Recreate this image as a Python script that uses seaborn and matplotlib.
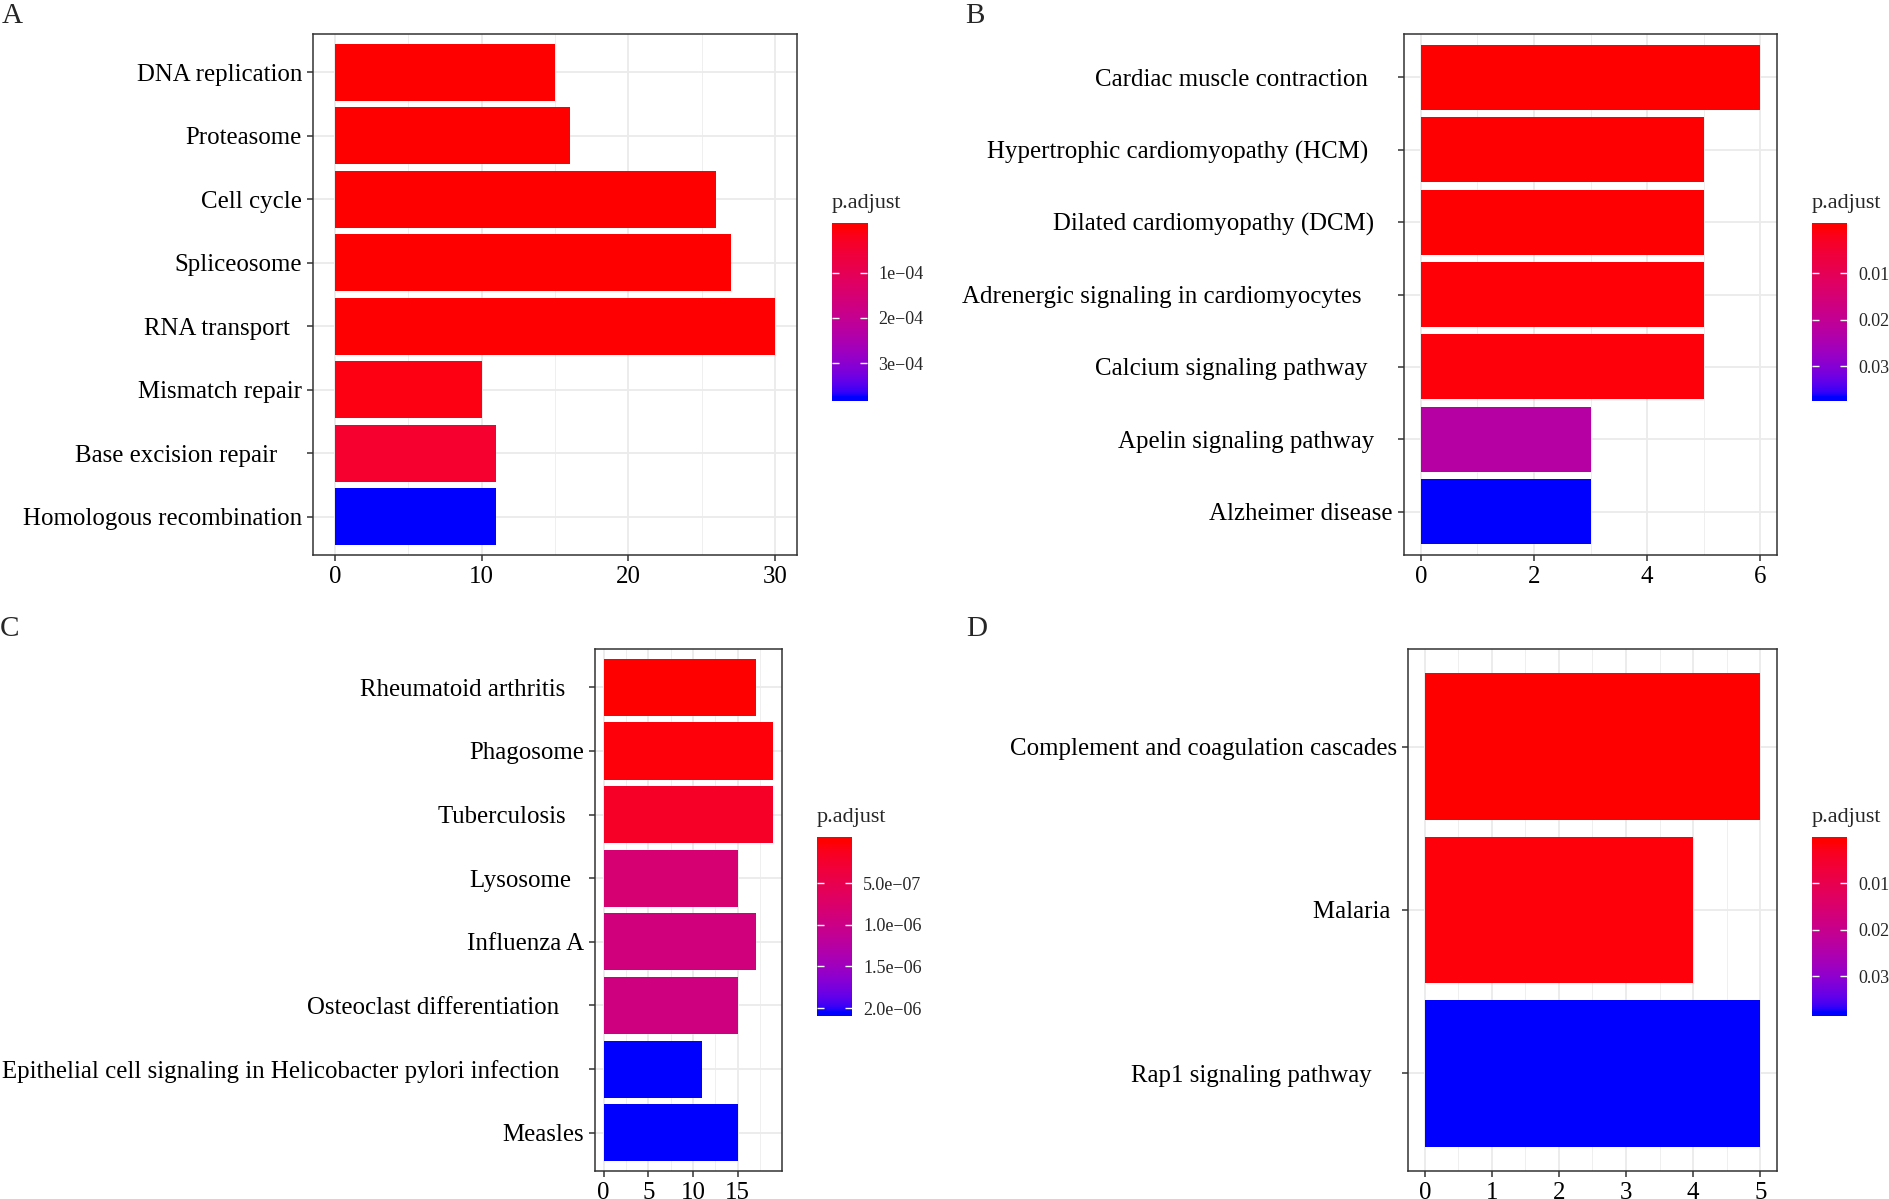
import numpy as np
import pandas as pd
import matplotlib
matplotlib.use("Agg")
import matplotlib.pyplot as plt
import seaborn as sns
from matplotlib.colors import ListedColormap, Normalize
from matplotlib.ticker import FixedLocator

# ---------------- data ----------------
a_terms = ["DNA replication", "Proteasome", "Cell cycle", "Spliceosome",
           "RNA transport  ", "Mismatch repair", "Base excision repair    ",
           "Homologous recombination"]
a_counts = [15, 16, 26, 27, 30, 10, 11, 11]
a_padj = [2e-7, 1e-6, 5e-7, 1e-6, 2e-6, 1.1e-5, 4.5e-5, 3.74e-4]
a_xticks = [0, 10, 20, 30]
a_cticks = [1e-4, 2e-4, 3e-4]
a_clabels = ["1e\u221204", "2e\u221204", "3e\u221204"]

b_terms = ["Cardiac muscle contraction    ", "Hypertrophic cardiomyopathy (HCM)    ",
           "Dilated cardiomyopathy (DCM)   ", "Adrenergic signaling in cardiomyocytes     ",
           "Calcium signaling pathway    ", "Apelin signaling pathway   ",
           "Alzheimer disease"]
b_counts = [6, 5, 5, 5, 5, 3, 3]
b_padj = [0.0002, 0.0004, 0.0004, 0.0006, 0.0008, 0.0225, 0.0365]
b_xticks = [0, 2, 4, 6]
b_cticks = [0.01, 0.02, 0.03]
b_clabels = ["0.01", "0.02", "0.03"]

c_terms = ["Rheumatoid arthritis   ", "Phagosome", "Tuberculosis   ", "Lysosome  ",
           "Influenza A", "Osteoclast differentiation    ",
           "Epithelial cell signaling in Helicobacter pylori infection    ",
           "Measles"]
c_counts = [17, 19, 19, 15, 17, 15, 11, 15]
c_padj = [1e-9, 4e-8, 2e-7, 8.2e-7, 9.2e-7, 9.4e-7, 2.04e-6, 2.04e-6]
c_xticks = [0, 5, 10, 15]
c_cticks = [5e-7, 1e-6, 1.5e-6, 2e-6]
c_clabels = ["5.0e\u221207", "1.0e\u221206", "1.5e\u221206", "2.0e\u221206"]

d_terms = ["Complement and coagulation cascades", "Malaria ", "Rap1 signaling pathway    "]
d_counts = [5, 4, 5]
d_padj = [0.0011, 0.0018, 0.0375]
d_xticks = [0, 1, 2, 3, 4, 5]
d_cticks = [0.01, 0.02, 0.03]
d_clabels = ["0.01", "0.02", "0.03"]


# ---------------- red -> blue gradient interpolated in CIELAB ----------------
def srgb_to_lab(rgb):
    rgb = np.asarray(rgb, float)
    lin = np.where(rgb <= 0.04045, rgb / 12.92, ((rgb + 0.055) / 1.055) ** 2.4)
    M = np.array([[0.4124, 0.3576, 0.1805], [0.2126, 0.7152, 0.0722], [0.0193, 0.1192, 0.9505]])
    xyz = M @ lin / np.array([0.95047, 1.0, 1.08883])
    f = np.where(xyz > 0.008856, np.cbrt(xyz), 7.787 * xyz + 16 / 116)
    return np.array([116 * f[1] - 16, 500 * (f[0] - f[1]), 200 * (f[1] - f[2])])


def lab_to_srgb(lab):
    L, a, b = lab
    fy = (L + 16) / 116
    fx = fy + a / 500
    fz = fy - b / 200
    f = np.array([fx, fy, fz])
    xyz = np.where(f ** 3 > 0.008856, f ** 3, (f - 16 / 116) / 7.787) * np.array([0.95047, 1.0, 1.08883])
    Minv = np.array([[3.2406, -1.5372, -0.4986], [-0.9689, 1.8758, 0.0415], [0.0557, -0.2040, 1.0570]])
    lin = np.clip(Minv @ xyz, 0, 1)
    rgb = np.where(lin <= 0.0031308, 12.92 * lin, 1.055 * lin ** (1 / 2.4) - 0.055)
    return np.clip(rgb, 0, 1)


lab_lo = srgb_to_lab([1, 0, 0])
lab_hi = srgb_to_lab([0, 0, 1])
cmap = ListedColormap([lab_to_srgb(lab_lo + (lab_hi - lab_lo) * t) for t in np.linspace(0, 1, 256)])

# ---------------- figure ----------------
sns.set_theme(style="white")
plt.rcParams["font.family"] = ["Liberation Serif", "DejaVu Serif"]

W, H = 1890, 1199
fig = plt.figure(figsize=(W / 100, H / 100), dpi=100)


def px_rect(l, t, r, b):
    return [l / W, 1 - b / H, (r - l) / W, (b - t) / H]


def panel(rect, cbrect, terms, counts, padj, xticks, cticks, clabels, letter, lxy):
    ax = fig.add_axes(px_rect(*rect))
    norm = Normalize(min(padj), max(padj))
    pal = {t: cmap(norm(p)) for t, p in zip(terms, padj)}
    df = pd.DataFrame({"term": terms, "count": counts})
    sns.barplot(data=df, x="count", y="term", hue="term", palette=pal, legend=False,
                width=0.9, saturation=1, orient="h", errorbar=None, ax=ax,
                linewidth=0, edgecolor="none")
    n = len(terms)
    ax.set_ylim(n - 1 + 0.6, -0.6)
    xmax = max(counts)
    ax.set_xlim(-0.05 * xmax, 1.05 * xmax)
    ax.xaxis.set_major_locator(FixedLocator(xticks))
    step = xticks[1] - xticks[0]
    minors = [x + step / 2 for x in xticks if x + step / 2 <= 1.05 * xmax]
    ax.xaxis.set_minor_locator(FixedLocator(minors))
    ax.set_axisbelow(True)
    ax.grid(True, which="major", color="#EBEBEB", lw=1.3)
    ax.grid(True, which="minor", axis="x", color="#EFEFEF", lw=0.7)
    ax.set_xlabel("")
    ax.set_ylabel("")
    ax.tick_params(axis="both", which="major", bottom=True, left=True, length=4, width=1.1,
                   color="#333333", labelsize=17.9, labelcolor="black", pad=4)
    ax.tick_params(axis="x", which="minor", length=0)
    for s in ax.spines.values():
        s.set_color("#333333")
        s.set_linewidth(1.1)
        s.set_visible(True)

    # colour bar
    cax = fig.add_axes(px_rect(*cbrect))
    vmin, vmax = norm.vmin, norm.vmax
    half = 0.5 * (vmax - vmin) / 19
    lo, hi = vmin - half, vmax + half
    grad = np.linspace(lo, hi, 400).reshape(-1, 1)
    cax.imshow(grad, aspect="auto", cmap=cmap, norm=norm, extent=[0, 1, hi, lo],
               origin="upper", interpolation="nearest")
    cax.set_xticks([])
    cax.set_yticks(cticks)
    cax.set_yticklabels(clabels)
    cax.tick_params(axis="y", direction="in", length=5, width=1, color="white",
                    left=True, right=True, labelleft=False, labelright=True,
                    labelsize=13, pad=8)
    for s in cax.spines.values():
        s.set_visible(False)
    l, t, r, b = cbrect
    fig.text(l / W, 1 - (t - 10) / H, "p.adjust", fontsize=16, ha="left", va="bottom")
    fig.text(lxy[0] / W, 1 - lxy[1] / H, letter, fontsize=21, ha="left", va="baseline")


panel((313, 34, 797, 555), (832, 223, 867, 401), a_terms, a_counts, a_padj,
      a_xticks, a_cticks, a_clabels, "A", (2, 23))
panel((1404, 34, 1777, 555), (1812, 223, 1847, 401), b_terms, b_counts, b_padj,
      b_xticks, b_cticks, b_clabels, "B", (965, 23))
panel((595, 649, 782, 1171), (817, 837, 852, 1016), c_terms, c_counts, c_padj,
      c_xticks, c_cticks, c_clabels, "C", (0, 636))
panel((1408, 649, 1777, 1171), (1812, 837, 1847, 1016), d_terms, d_counts, d_padj,
      d_xticks, d_cticks, d_clabels, "D", (966, 636))

fig.savefig("out.png", dpi=100)
